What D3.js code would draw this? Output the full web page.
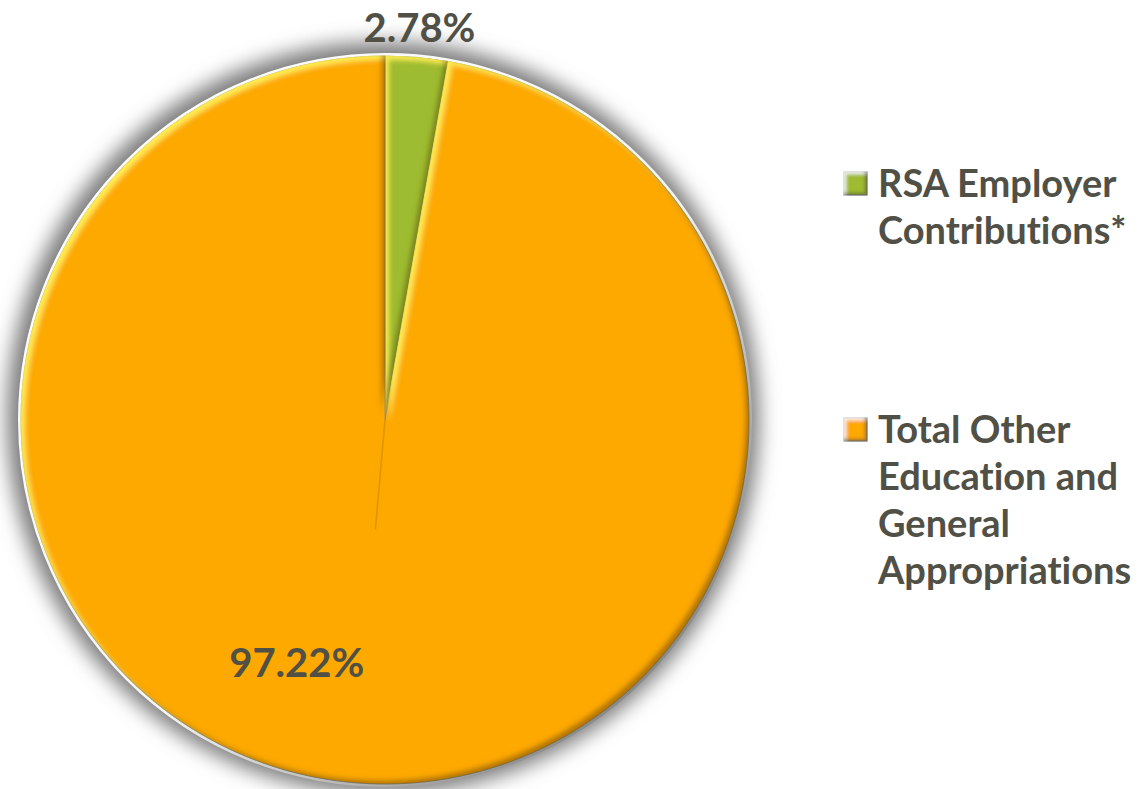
<!DOCTYPE html>
<html>
<head>
<meta charset="utf-8">
<script src="https://cdn.jsdelivr.net/npm/d3@7"></script>
<style>
  html, body { margin: 0; padding: 0; background: #ffffff; }
  svg { display: block; }
  text { font-family: Lato, "Open Sans", sans-serif; font-weight: 700; fill: #505046;
         font-variant-ligatures: none; font-feature-settings: "liga" 0, "clig" 0; }
</style>
</head>
<body>
<svg id="chart" width="1140" height="789"></svg>
<script>
// Funding shares
const categories = ["RSA Employer Contributions*", "Total Other Education and General Appropriations"];
const values = [2.78, 97.22];
const legendLines = [["RSA Employer", "Contributions*"], ["Total Other", "Education and", "General", "Appropriations"]];
const sliceColors = ["#9ebc32", "#fda900"];

const W = 1140, H = 789;
const cx = 385, cy = 420, R = 364;

const svg = d3.select("#chart");
const defs = svg.append("defs");

// soft outer glow behind the pie
const glow = defs.append("filter").attr("id", "glow")
  .attr("x", "-20%").attr("y", "-20%").attr("width", "140%").attr("height", "140%");
glow.append("feGaussianBlur").attr("stdDeviation", 10);

// rounded bevel: light on upper-left edges, dark on lower-right edges
function bevel(id, hi, hiOp, lo, loOp, blur, off) {
  const f = defs.append("filter").attr("id", id)
    .attr("x", "-10%").attr("y", "-10%").attr("width", "120%").attr("height", "120%");
  f.append("feGaussianBlur").attr("in", "SourceAlpha").attr("stdDeviation", blur).attr("result", "b");
  f.append("feOffset").attr("in", "b").attr("dx", off).attr("dy", off).attr("result", "oa");
  f.append("feComposite").attr("in", "SourceAlpha").attr("in2", "oa").attr("operator", "out").attr("result", "hm");
  f.append("feFlood").attr("flood-color", hi).attr("flood-opacity", hiOp).attr("result", "hf");
  f.append("feComposite").attr("in", "hf").attr("in2", "hm").attr("operator", "in").attr("result", "h");
  f.append("feOffset").attr("in", "b").attr("dx", -off).attr("dy", -off).attr("result", "ob");
  f.append("feComposite").attr("in", "SourceAlpha").attr("in2", "ob").attr("operator", "out").attr("result", "lm");
  f.append("feFlood").attr("flood-color", lo).attr("flood-opacity", loOp).attr("result", "lf");
  f.append("feComposite").attr("in", "lf").attr("in2", "lm").attr("operator", "in").attr("result", "l");
  const m = f.append("feMerge");
  m.append("feMergeNode").attr("in", "SourceGraphic");
  m.append("feMergeNode").attr("in", "h");
  m.append("feMergeNode").attr("in", "l");
}
bevel("bevel", "#ffee55", 0.95, "#5a3600", 0.6, 2.5, 4);
bevel("bevelSmall", "#ffffff", 0.7, "#333333", 0.55, 1.5, 3);

// rim gradient: white upper-left, grey lower-right
const rim = defs.append("linearGradient").attr("id", "rim")
  .attr("x1", "0%").attr("y1", "0%").attr("x2", "100%").attr("y2", "100%");
rim.append("stop").attr("offset", "0%").attr("stop-color", "#ffffff");
rim.append("stop").attr("offset", "55%").attr("stop-color", "#f4f4f4");
rim.append("stop").attr("offset", "100%").attr("stop-color", "#555555");

const g = svg.append("g").attr("transform", `translate(${cx},${cy})`);

g.append("circle").attr("cx", -2).attr("cy", -2).attr("r", R + 12)
  .attr("fill", "#7a7a7a").attr("filter", "url(#glow)");

g.append("circle").attr("r", R + 1.5).attr("fill", "none")
  .attr("stroke", "url(#rim)").attr("stroke-width", 3);

const pie = d3.pie().sort(null).value(d => d);
const arcs = pie(values);
const arc = d3.arc().innerRadius(0).outerRadius(R);

g.selectAll("path.slice").data(arcs).enter().append("path")
  .attr("class", "slice")
  .attr("d", arc)
  .attr("fill", (d, i) => sliceColors[i])
  .attr("stroke", "#8a8a7a").attr("stroke-width", 0.8)
  .attr("filter", "url(#bevel)");

// crease along the middle of the large slice
const big = arcs[1];
const mid = (big.startAngle + big.endAngle) / 2;
g.append("line")
  .attr("x1", 0).attr("y1", 0)
  .attr("x2", Math.sin(mid) * 110).attr("y2", -Math.cos(mid) * 110)
  .attr("stroke", "#d98c00").attr("stroke-width", 1.6).attr("stroke-opacity", 0.7);

// value labels
const fmt = v => d3.format(".2f")(v) + "%";
const labelPos = [
  { a: (arcs[0].startAngle + arcs[0].endAngle) / 2, r: R + 31 },
  { a: 200 * Math.PI / 180, r: 258 }
];
g.selectAll("text.val").data(arcs).enter().append("text")
  .attr("class", "val")
  .attr("x", (d, i) => Math.sin(labelPos[i].a) * labelPos[i].r)
  .attr("y", (d, i) => -Math.cos(labelPos[i].a) * labelPos[i].r)
  .attr("text-anchor", "middle")
  .attr("dominant-baseline", "central")
  .style("font-size", "40px")
  .text(d => fmt(d.data));

// legend
const legX = 844, textX = 878, lineH = 47;
const legTops = [197, 443];
const leg = svg.selectAll("g.leg").data(categories).enter().append("g").attr("class", "leg");
leg.append("rect")
  .attr("x", legX).attr("y", (d, i) => legTops[i] - 25)
  .attr("width", 23).attr("height", 23)
  .attr("fill", (d, i) => sliceColors[i])
  .attr("stroke", "#8c8c8c").attr("stroke-width", 1)
  .attr("filter", "url(#bevelSmall)");
leg.each(function (d, i) {
  const t = d3.select(this).append("text").style("font-size", "38px");
  legendLines[i].forEach((line, j) => {
    t.append("tspan").attr("x", textX).attr("y", legTops[i] + j * lineH).text(line);
  });
});
</script>
</body>
</html>
